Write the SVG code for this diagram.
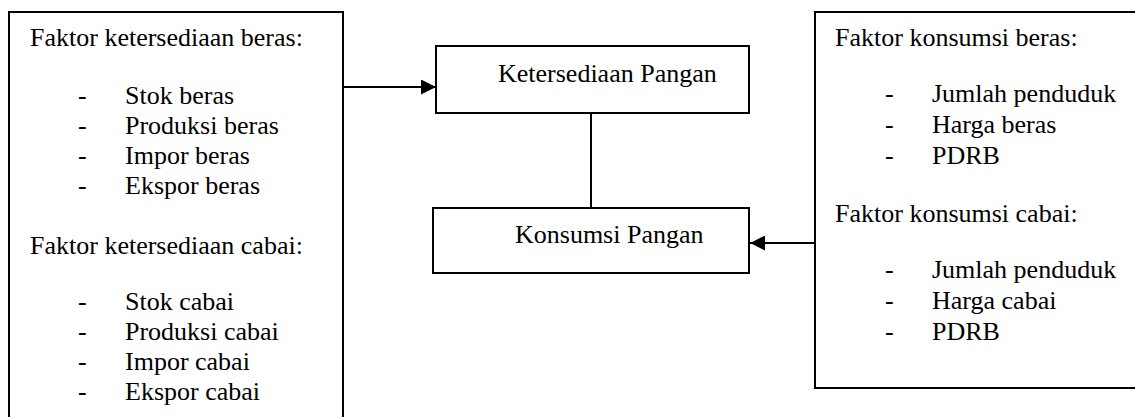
<svg xmlns="http://www.w3.org/2000/svg" width="1135" height="417" viewBox="0 0 1135 417">
  <style>
    .box { fill: #ffffff; stroke: #000000; stroke-width: 2; }
    .txt { font-family: "Liberation Serif", "Times New Roman", serif; font-size: 26px; fill: #000000; }
    .edge { fill: none; stroke: #000000; stroke-width: 2; }
  </style>
  <defs>
    <marker id="arrow" viewBox="0 0 15 15" refX="15" refY="7.5" markerWidth="15" markerHeight="15" markerUnits="userSpaceOnUse" orient="auto">
      <path d="M0,0 L15,7.5 L0,15 Z" fill="#000000"/>
    </marker>
  </defs>
  <rect width="1135" height="417" fill="#ffffff"/>

  <!-- Supply factors -->
  <g id="faktor-ketersediaan">
    <rect class="box" x="9" y="12" width="334" height="420"/>
    <text class="txt" x="30" y="46">Faktor ketersediaan beras:</text>
    <text class="txt" x="78" y="104">-</text><text class="txt" x="125" y="104">Stok beras</text>
    <text class="txt" x="78" y="134">-</text><text class="txt" x="125" y="134">Produksi beras</text>
    <text class="txt" x="78" y="164">-</text><text class="txt" x="125" y="164">Impor beras</text>
    <text class="txt" x="78" y="194">-</text><text class="txt" x="125" y="194">Ekspor beras</text>
    <text class="txt" x="30" y="254">Faktor ketersediaan cabai:</text>
    <text class="txt" x="78" y="310">-</text><text class="txt" x="125" y="310">Stok cabai</text>
    <text class="txt" x="78" y="340">-</text><text class="txt" x="125" y="340">Produksi cabai</text>
    <text class="txt" x="78" y="370">-</text><text class="txt" x="125" y="370">Impor cabai</text>
    <text class="txt" x="78" y="400">-</text><text class="txt" x="125" y="400">Ekspor cabai</text>
  </g>

  <!-- Food availability -->
  <g id="ketersediaan-pangan">
    <rect class="box" x="436" y="46" width="313" height="67"/>
    <text class="txt" x="498" y="82">Ketersediaan Pangan</text>
  </g>

  <!-- Food consumption -->
  <g id="konsumsi-pangan">
    <rect class="box" x="433" y="208" width="316" height="65"/>
    <text class="txt" x="515" y="243">Konsumsi Pangan</text>
  </g>

  <!-- Consumption factors -->
  <g id="faktor-konsumsi">
    <rect class="box" x="815" y="12" width="330" height="376"/>
    <text class="txt" x="835" y="46">Faktor konsumsi beras:</text>
    <text class="txt" x="885" y="102">-</text><text class="txt" x="932" y="102">Jumlah penduduk</text>
    <text class="txt" x="885" y="133">-</text><text class="txt" x="932" y="133">Harga beras</text>
    <text class="txt" x="885" y="164">-</text><text class="txt" x="932" y="164">PDRB</text>
    <text class="txt" x="835" y="222">Faktor konsumsi cabai:</text>
    <text class="txt" x="885" y="278">-</text><text class="txt" x="932" y="278">Jumlah penduduk</text>
    <text class="txt" x="885" y="309">-</text><text class="txt" x="932" y="309">Harga cabai</text>
    <text class="txt" x="885" y="340">-</text><text class="txt" x="932" y="340">PDRB</text>
  </g>

  <!-- Connectors -->
  <g id="connectors">
    <line class="edge" x1="343" y1="87" x2="436" y2="87" marker-end="url(#arrow)"/>
    <line class="edge" x1="591" y1="113" x2="591" y2="208"/>
    <line class="edge" x1="815" y1="243" x2="750" y2="243" marker-end="url(#arrow)"/>
  </g>
</svg>
